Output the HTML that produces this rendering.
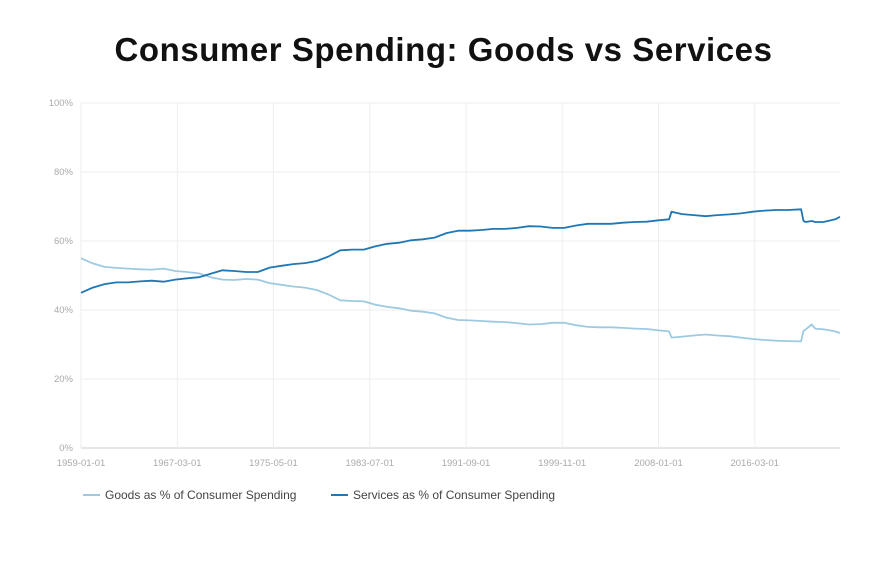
<!DOCTYPE html>
<html><head><meta charset="utf-8"><style>
body{margin:0;background:#fff;width:887px;height:568px;overflow:hidden;font-family:"Liberation Sans",sans-serif}
#title{position:absolute;left:0;width:887px;top:31px;text-align:center;font-weight:bold;font-size:33px;color:#111;letter-spacing:0.55px}
svg{position:absolute;left:0;top:0}
</style></head><body>
<div id="title">Consumer Spending: Goods vs Services</div>
<svg id="chart" width="887" height="568"></svg>
<script>
const years=[1959,1960,1961,1962,1963,1964,1965,1966,1967,1968,1969,1970,1971,1972,1973,1974,1975,1976,1977,1978,1979,1980,1981,1982,1983,1984,1985,1986,1987,1988,1989,1990,1991,1992,1993,1994,1995,1996,1997,1998,1999,2000,2001,2002,2003,2004,2005,2006,2007,2008,2008.9,2009.1,2010,2011,2012,2013,2014,2015,2016,2017,2018,2019,2020.1,2020.3,2020.5,2021,2021.3,2022,2023,2023.4];
const services=[45,46.5,47.5,48,48,48.3,48.5,48.2,48.8,49.2,49.5,50.5,51.5,51.3,51,51,52.3,52.8,53.3,53.6,54.2,55.5,57.3,57.5,57.5,58.5,59.2,59.5,60.2,60.5,61,62.3,63,63,63.2,63.5,63.5,63.8,64.3,64.2,63.8,63.8,64.5,65,65,65,65.3,65.5,65.6,66,66.3,68.5,67.8,67.5,67.2,67.5,67.7,68,68.5,68.8,69,69,69.2,65.8,65.5,65.8,65.5,65.5,66.3,67];
const goods=[55,53.5,52.5,52.2,52,51.8,51.7,52,51.3,51,50.6,49.5,48.8,48.7,49,48.8,47.8,47.3,46.8,46.5,45.8,44.5,42.8,42.6,42.5,41.5,40.9,40.5,39.8,39.5,39,37.8,37.1,37,36.8,36.6,36.5,36.2,35.8,35.9,36.3,36.3,35.6,35.1,35,35,34.8,34.6,34.5,34.1,33.8,32,32.3,32.6,32.9,32.6,32.4,32,31.6,31.3,31.1,31,30.9,33.9,34.4,35.8,34.6,34.4,33.8,33.3];
const yTicks=[0,20,40,60,80,100];
const xTickLabels=["1959-01-01","1967-03-01","1975-05-01","1983-07-01","1991-09-01","1999-11-01","2008-01-01","2016-03-01"];
const xTickYears=[1959,1967.17,1975.33,1983.5,1991.67,1999.83,2008,2016.17];
const X0=81,X1=840,Y0=448,Y1=103,YMIN=1959,YMAX=2023.4;
const xs=v=>X0+(v-YMIN)/(YMAX-YMIN)*(X1-X0);
const ys=v=>Y0-(v/100)*(Y0-Y1);
const svg=document.getElementById('chart');const NS='http://www.w3.org/2000/svg';
function mk(t,a){const e=document.createElementNS(NS,t);for(const k in a)e.setAttribute(k,a[k]);svg.appendChild(e);return e;}
yTicks.forEach(v=>{
 const l=mk('line',{x1:X0,x2:X1,y1:ys(v),y2:ys(v),stroke:v===0?'#ccc':'#eee','stroke-width':1});
 
 
 const t=mk('text',{x:X0-8,y:ys(v)+3,'text-anchor':'end','font-size':9.5,fill:'#aaa'});t.textContent=v+'%';
 
 
});
xTickYears.forEach((v,i)=>{
 const l=mk('line',{x1:xs(v),x2:xs(v),y1:Y1,y2:Y0,stroke:'#eee','stroke-width':1});
 
 
 const t=mk('text',{x:xs(v),y:Y0+18,'text-anchor':'middle','font-size':9.5,fill:'#aaa'});t.textContent=xTickLabels[i];
 
 
});
function line(arr,color,name){
 const d=arr.map((v,i)=>(i?'L':'M')+xs(years[i]).toFixed(1)+','+ys(v).toFixed(1)).join('');
 const p=mk('path',{d:d,fill:'none',stroke:color,'stroke-width':1.8,'stroke-linejoin':'round'});
 
 
}
line(goods,'#9ecae1','goods-line');
line(services,'#1f77b4','services-line');
const leg=[['Goods as % of Consumer Spending','#9ecae1',83,'legend-goods'],['Services as % of Consumer Spending','#1f77b4',331,'legend-services']];
leg.forEach(([txt,c,x,n])=>{
 const l=mk('line',{x1:x,x2:x+17,y1:495,y2:495,stroke:c,'stroke-width':2});
 
 
 const t=mk('text',{x:x+22,y:499,'font-size':12,fill:'#444'});t.textContent=txt;
 
 
});
</script>
</body></html>
